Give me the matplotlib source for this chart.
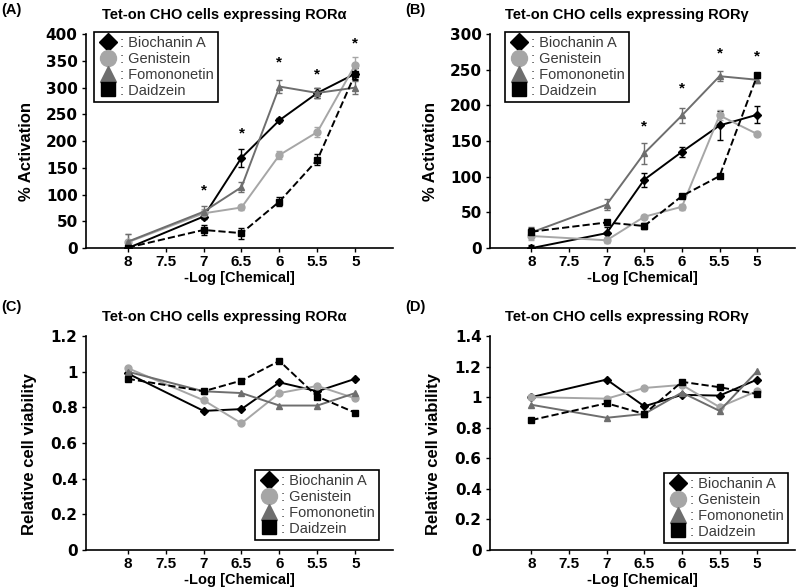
import matplotlib
matplotlib.use("Agg")
import matplotlib.pyplot as plt

# -Log [Chemical] concentrations
conc = [8, 7, 6.5, 6, 5.5, 5]
names = ["Biochanin A", "Genistein", "Fomononetin", "Daidzein"]

# (A) % activation, ROR alpha
a_bio = [0, 59, 169, 239, 290, 326]
a_gen = [11, 65, 76, 174, 217, 343]
a_fom = [12, 68, 114, 302, 290, 300]
a_dai = [1, 34, 28, 87, 165, 326]
a_bio_err = [3, 5, 17, 4, 10, 12]
a_gen_err = [15, 8, 5, 7, 10, 15]
a_fom_err = [15, 10, 10, 13, 10, 12]
a_dai_err = [5, 10, 10, 8, 10, 10]
a_star_x = [7, 6.5, 6, 5.5, 5]
a_star_y = [107, 214, 347, 325, 382]

# (B) % activation, ROR gamma
b_bio = [0, 21, 96, 135, 172, 187]
b_gen = [17, 11, 44, 58, 186, 160]
b_fom = [22, 61, 133, 186, 241, 236]
b_dai = [23, 36, 31, 73, 101, 242]
b_bio_err = [5, 8, 10, 7, 20, 12]
b_gen_err = [5, 4, 3, 4, 7, 3]
b_fom_err = [8, 8, 15, 10, 7, 5]
b_dai_err = [5, 3, 4, 3, 3, 3]
b_star_x = [6.5, 6, 5.5, 5]
b_star_y = [170, 224, 273, 268]

# (C) relative viability, ROR alpha
c_bio = [0.99, 0.78, 0.79, 0.94, 0.89, 0.96]
c_gen = [1.02, 0.84, 0.71, 0.88, 0.92, 0.85]
c_fom = [1.00, 0.89, 0.88, 0.81, 0.81, 0.88]
c_dai = [0.96, 0.89, 0.95, 1.06, 0.86, 0.77]

# (D) relative viability, ROR gamma
d_bio = [1.00, 1.115, 0.94, 1.015, 1.01, 1.115]
d_gen = [1.00, 0.99, 1.06, 1.08, 0.935, 1.04]
d_fom = [0.95, 0.865, 0.89, 1.03, 0.91, 1.17]
d_dai = [0.85, 0.96, 0.89, 1.10, 1.065, 1.02]

xticks = [8, 7.5, 7, 6.5, 6, 5.5, 5]
xticklabels = ["8", "7.5", "7", "6.5", "6", "5.5", "5"]

styles = [
    dict(color="black", marker="D", ms=4, ls="-"),
    dict(color="#a6a6a6", marker="o", ms=5, ls="-"),
    dict(color="#6e6e6e", marker="^", ms=5, ls="-"),
    dict(color="black", marker="s", ms=4.5, ls="--"),
]

plt.rcParams["font.family"] = ["Liberation Sans", "DejaVu Sans"]

fig = plt.figure(figsize=(8, 5.88), dpi=100)
ax_a = fig.add_axes([0.1075, 0.578, 0.384, 0.364])
ax_b = fig.add_axes([0.6125, 0.578, 0.381, 0.364])
ax_c = fig.add_axes([0.1075, 0.0646, 0.384, 0.364])
ax_d = fig.add_axes([0.6125, 0.0646, 0.381, 0.364])


def draw(ax, series, errs, ylim, yticks, ylabel, title, leg_loc, leg_anchor):
    handles = []
    for i, ys in enumerate(series):
        st = styles[i]
        if errs is not None:
            ax.errorbar(conc, ys, yerr=errs[i], color=st["color"], lw=1.4,
                        ls="none", capsize=2, elinewidth=1, zorder=2)
        h, = ax.plot(conc, ys, color=st["color"], marker=st["marker"],
                     ms=st["ms"], ls=st["ls"], lw=1.4, zorder=3)
        handles.append(h)
    ax.set_xlim(8.55, 4.5)
    ax.set_ylim(*ylim)
    ax.set_xticks(xticks)
    ax.set_xticklabels(xticklabels, fontsize=11, fontweight="bold")
    ax.set_yticks(yticks)
    ax.set_yticklabels([("%g" % t) for t in yticks], fontsize=11,
                       fontweight="bold", family="DejaVu Sans")
    ax.tick_params(axis="both", direction="out", length=3, width=1, pad=3)
    ax.tick_params(axis="x", pad=2)
    for s in ["top", "right"]:
        ax.spines[s].set_visible(False)
    ax.spines["left"].set_linewidth(1.2)
    ax.spines["bottom"].set_linewidth(1.2)
    ax.set_xlabel("-Log [Chemical]", fontsize=10.5, fontweight="bold")
    ax.xaxis.set_label_coords(0.5, -0.108)
    ax.set_ylabel(ylabel, fontsize=12, fontweight="bold")
    ax.text(0.45, 1.09, title, transform=ax.transAxes, ha="center",
            va="center", fontsize=10.5, fontweight="bold")
    leg = ax.legend(handles, [": " + n for n in names], loc=leg_loc,
                    bbox_to_anchor=leg_anchor, fontsize=10.5, markerscale=2.3,
                    handlelength=1.3, handletextpad=0.15, labelspacing=0.12,
                    borderpad=0.3, borderaxespad=0, fancybox=False,
                    framealpha=1, edgecolor="black")
    leg.get_frame().set_linewidth(1.2)
    for h in leg.legend_handles:
        h.set_linestyle("none")
    for t in leg.get_texts():
        t.set_color("#3a3a3a")


draw(ax_a, [a_bio, a_gen, a_fom, a_dai],
     [a_bio_err, a_gen_err, a_fom_err, a_dai_err],
     (0, 400), list(range(0, 401, 50)), "% Activation",
     "Tet-on CHO cells expressing ROR\u03b1", "upper left", (0.026, 1.01))
draw(ax_b, [b_bio, b_gen, b_fom, b_dai],
     [b_bio_err, b_gen_err, b_fom_err, b_dai_err],
     (0, 300), list(range(0, 301, 50)), "% Activation",
     "Tet-on CHO cells expressing ROR\u03b3", "upper left", (0.05, 1.01))
draw(ax_c, [c_bio, c_gen, c_fom, c_dai], None,
     (0, 1.2), [0, 0.2, 0.4, 0.6, 0.8, 1, 1.2], "Relative cell viability",
     "Tet-on CHO cells expressing ROR\u03b1", "lower right", (0.954, 0.047))
draw(ax_d, [d_bio, d_gen, d_fom, d_dai], None,
     (0, 1.4), [0, 0.2, 0.4, 0.6, 0.8, 1, 1.2, 1.4], "Relative cell viability",
     "Tet-on CHO cells expressing ROR\u03b3", "lower right", (0.977, 0.033))

for ax in [ax_a, ax_b]:
    ax.yaxis.set_label_coords(-0.17, 0.45)
for ax in [ax_c, ax_d]:
    ax.yaxis.set_label_coords(-0.16, 0.45)

for sx, sy in zip(a_star_x, a_star_y):
    ax_a.text(sx, sy, "*", ha="center", va="center", fontsize=11,
              fontweight="bold")
for sx, sy in zip(b_star_x, b_star_y):
    ax_b.text(sx, sy, "*", ha="center", va="center", fontsize=11,
              fontweight="bold")

fig.text(0.002, 0.983, "(A)", fontsize=10.5, fontweight="bold", va="center")
fig.text(0.506, 0.983, "(B)", fontsize=10.5, fontweight="bold", va="center")
fig.text(0.002, 0.478, "(C)", fontsize=10.5, fontweight="bold", va="center")
fig.text(0.506, 0.478, "(D)", fontsize=10.5, fontweight="bold", va="center")

fig.savefig("out.png", dpi=100)
